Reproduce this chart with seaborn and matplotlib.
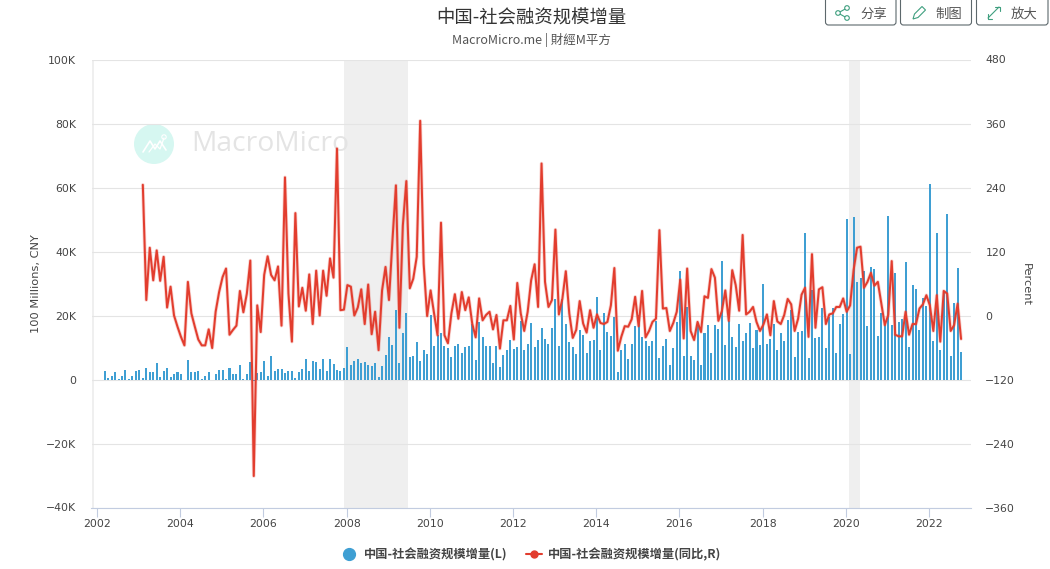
import numpy as np
import pandas as pd
import matplotlib
matplotlib.use("Agg")
import matplotlib.pyplot as plt
import matplotlib.patheffects as pe
from matplotlib.lines import Line2D
from matplotlib.patches import Circle, FancyBboxPatch, Polygon
import seaborn as sns

TITLE = "中国-社会融资规模增量"
SUBTITLE = "MacroMicro.me | 財經M平方"
BAR_LABEL = "中国-社会融资规模增量(L)"
LINE_LABEL = "中国-社会融资规模增量(同比,R)"

# monthly values, Feb 2002 onward (unit: K of 100 million CNY)
bar_values = [
    2.8, .6, 1.25, 2.2, .3, 1.25, 3.1, .3, 1.25, 2.8,
    3.1, .6, 3.75, 2.2, 2.5, 5.3, .9, 2.8, 3.75, .9,
    1.6, 2.2, 1.6, 0, 6.2, 2.2, 2.2, 2.8, .3, 1.25,
    2.5, 0, 1.6, 3.1, 3.1, .3, 3.75, 1.6, 1.6, 4.4,
    .3, 1.6, 5.6, -.5, 1.9, 2.2, 5.9, 1.25, 7.2, 2.8,
    3.4, 3.4, 1.9, 2.8, 2.8, .6, 2.5, 3.4, 6.5, 2.8,
    5.9, 5.6, 3.4, 6.5, 2.8, 6.5, 5, 3.1, 2.8, 3.75,
    10.3, 4.4, 5.9, 6.5, 5.3, 5.6, 4.4, 4.1, 5.3, .9,
    4.1, 7.8, 13.4, 10.7, 21.7, 5.1, 14.5, 20.7, 7, 7.3,
    11.7, 5.7, 9.2, 7.9, 20.1, 10.4, 13.9, 14.5, 10.4, 9.8,
    7, 10.4, 11, 8.2, 10.1, 10.4, 17.3, 6, 17.9, 13.2,
    10.4, 10.4, 5.1, 10.4, 3.9, 7.6, 9.2, 12.3, 9.5, 10.1,
    18.2, 9.2, 11, 17.6, 10.1, 12.3, 16, 12.6, 11, 16,
    25.1, 10.4, 25.1, 17.3, 11.7, 10.1, 7.9, 15.4, 13.9, 8.2,
    12, 12.3, 25.7, 9.2, 20.7, 14.8, 13.5, 19.5, 2.3, 9.2,
    11, 6.4, 11, 16.7, 20.1, 13.2, 12, 10.4, 12, 18.2,
    6.7, 10.4, 12.6, 4.5, 9.8, 17.9, 33.8, 7.5, 22.8, 7.2,
    6.25, 17, 4.4, 14.4, 16.9, 8.4, 16.9, 15.9, 36.9, 10.9,
    18.4, 13.4, 10.3, 17.5, 11.9, 14.4, 17.8, 10, 15.6, 10.9,
    30, 11.25, 12.8, 17.2, 9.1, 14.4, 11.9, 18.75, 21.6, 6.9,
    14.7, 15.3, 45.9, 6.6, 28.1, 13.1, 13.4, 22.2, 9.7, 19.4,
    22.2, 8.4, 17.2, 20.6, 50.3, 8.1, 50.9, 30.6, 31.6, 33.8,
    16.6, 35.3, 34.4, 13.75, 20.9, 16.9, 51.25, 16.9, 33.4, 18.1,
    19, 36.6, 10.3, 29.4, 28.4, 15.6, 25.6, 23.1, 61.25, 11.9,
    45.9, 9.1, 27.8, 51.6, 7.2, 24, 35, 8.75,
]

# yoy percent, starts 11 months after the bars
yoy_values = [
    245, 29, 127, 66, 122, 65, 110, 15, 54,
    0, -21, -40, -56, 63, 4, -21, -45, -56, -56,
    -26, -61, 7, 44, 72, 88, -36, -27, -19, 46,
    6, 41, 103, -301, 19, -31, 76, 111, 76, 66,
    92, -19, 259, 41, -49, 192, 17, 52, 9, 77,
    -16, 84, 0, 84, 37, 107, 71, 313, 10, 11,
    57, 54, 0, 15, 49, -16, 58, -35, 7, -65,
    47, 91, 29, 141, 244, -23, 169, 252, 51, 69,
    110, 365, 97, -1, 47, 4, -37, 174, -37, -52,
    4, 40, -6, 44, 10, 34, -15, -41, 32, -9,
    1, 7, -26, 1, -62, -9, -9, 18, -45, 61,
    4, -29, 7, 66, 96, 16, 285, 63, 16, 29,
    161, 2, 31, 83, 4, -42, -27, 27, -15, -32,
    10, -23, 2, -14, -16, -12, 19, 89, -66, -40,
    -20, -21, -7, 35, -20, 46, -41, -29, -12, -6,
    160, 13, 14, -29, -14, 7, 67, -43, 88, -29,
    -46, -12, -31, 36, 33, 87, 71, -10, 8, 47,
    -10, 85, 57, 9, 151, 2, 7, 16, -12, -29,
    -17, 2, -37, 27, -11, -16, 1, 31, 21, -29,
    -6, 39, 52, -40, 115, -23, 49, 53, -16, 2,
    4, 16, 16, 32, 7, 19, 85, 127, 129, 52,
    63, 80, 56, 63, 22, -18, 1, 102, -36, -39,
    -39, 7, -36, -16, -16, 13, 21, 38, 19, -29,
    38, -49, 46, 41, -29, -18, 22, -44,
]

shaded_spans = [(2001.868, 2001.93), (2007.93, 2009.47), (2020.08, 2020.33)]
year_ticks = list(range(2002, 2023, 2))
left_ticks = [-40000, -20000, 0, 20000, 40000, 60000, 80000, 100000]
left_labels = ["−40K", "−20K", "0", "20K", "40K", "60K", "80K", "100K"]
right_ticks = [-360, -240, -120, 0, 120, 240, 360, 480]
right_labels = ["−360", "−240", "−120", "0", "120", "240", "360", "480"]

BLUE = "#3f9fd3"
RED = "#e23d2e"
GRID = "#e4e4e4"
AXIS = "#c2cce0"
TEXT = "#444444"
GREEN = "#3f9f7f"

sns.set_theme(style="white")
plt.rcParams["font.family"] = ["DejaVu Sans", "Noto Sans CJK SC"]

months = 2002.185 + np.arange(len(bar_values)) / 12
df_bar = pd.DataFrame({"year": months, "value": np.array(bar_values) * 1000})
df_line = pd.DataFrame({"year": months[11:], "yoy": yoy_values})

fig = plt.figure(figsize=(10.5, 5.69), dpi=100)

# page furniture in pixel coordinates, behind the chart
page = fig.add_axes([0, 0, 1, 1], zorder=0)
page.set_xlim(0, 1050)
page.set_ylim(569, 0)
page.axis("off")

cjk = ["Noto Sans CJK SC", "DejaVu Sans"]
page.text(531, 19, TITLE, ha="center", va="center", fontsize=13.2, color="#333333", family=cjk)
page.text(531, 40, SUBTITLE, ha="center", va="center", fontsize=9, color="#555555", family=cjk)

# watermark
page.add_patch(Circle((154, 144), 20, color="#d6f7f1", lw=0))
page.plot([143, 150, 155, 160, 166], [152, 141, 149, 141, 150], color="white", lw=1.2)
page.plot([149, 155, 160, 164], [152, 144, 149, 138], color="white", lw=0.9)
page.add_patch(Circle((164, 137), 2.2, fc="#d6f7f1", ec="white", lw=0.8))

# top right buttons
for x0, x1, label, tx in [(825.5, 896, "分享", 873.5), (900.5, 971.5, "制图", 948.5), (976.5, 1048, "放大", 1024.5)]:
    page.add_patch(FancyBboxPatch((x0, -8), x1 - x0, 33, boxstyle="round,pad=0,rounding_size=3",
                                  fc="white", ec="#5d686c", lw=0.8))
    page.text(tx, 14, label, ha="center", va="center", fontsize=9.6, color="#555555", family=cjk)

# share icon
page.plot([847, 838, 847], [8, 13, 18], color=GREEN, lw=0.8)
for cx, cy in [(847, 8), (838, 13), (847, 18)]:
    page.add_patch(Circle((cx, cy), 2.3, fc="white", ec=GREEN, lw=0.8, zorder=3))
# pencil icon
page.add_patch(Polygon([(913, 19), (914.5, 14), (922, 6.5), (925.5, 10), (918, 17.5)],
                       closed=True, fc="white", ec=GREEN, lw=0.8))
# expand icon
page.plot([988, 999], [18, 7], color=GREEN, lw=0.8)
page.plot([995, 999.5, 999.5], [6.5, 6.5, 11], color=GREEN, lw=0.8)
page.plot([987.5, 987.5, 992], [14, 18.5, 18.5], color=GREEN, lw=0.8)

# main chart
ax = fig.add_axes([91.5 / 1050, 1 - 507.5 / 569, (970.7 - 91.5) / 1050, 448 / 569], zorder=1)
ax.patch.set_alpha(0)
for start, end in shaded_spans:
    ax.axvspan(start, end, color="#efefef", lw=0, zorder=0)

# the wordmark sits on top of the shaded band
ax.text(191, 144, "MacroMicro", transform=page.transData, ha="left", va="center", fontsize=20.3,
        color="#e4e4e4", family="Open Sans", zorder=1)

sns.barplot(data=df_bar, x="year", y="value", native_scale=True, errorbar=None, color=BLUE,
            saturation=1, width=0.58, linewidth=0, edgecolor="none", ax=ax, zorder=2)

ax.set_xlim(2001.868, 2023.0)
ax.set_ylim(-40000, 100000)
ax.set_xticks(year_ticks)
ax.set_xticklabels([str(y) for y in year_ticks])
ax.set_yticks(left_ticks)
ax.set_yticklabels(left_labels)
ax.set_xlabel("")
ax.set_ylabel("100 Millions, CNY", fontsize=8.2, color=TEXT)
ax.yaxis.set_label_coords(-0.058, 0.5)
ax.grid(axis="y", color=GRID, lw=0.8)
ax.set_axisbelow(True)
sns.despine(ax=ax, left=True, right=True, top=True)
ax.spines["bottom"].set_color(AXIS)
ax.spines["bottom"].set_linewidth(0.8)
ax.tick_params(axis="x", length=6.5, width=0.8, color=AXIS, labelsize=7.8, labelcolor=TEXT, pad=2, bottom=True)
ax.tick_params(axis="y", length=0, labelsize=7.8, labelcolor=TEXT, pad=11)

ax2 = ax.twinx()
ax2.set_zorder(2)
ax2.patch.set_alpha(0)
sns.lineplot(data=df_line, x="year", y="yoy", estimator=None, color=RED, lw=1.45, sort=False,
             solid_joinstyle="round", ax=ax2,
             path_effects=[pe.Stroke(linewidth=2.6, foreground=RED, alpha=0.22), pe.Normal()])
ax2.set_xlim(2001.868, 2023.0)
ax2.set_ylim(-360, 480)
ax2.set_yticks(right_ticks)
ax2.set_yticklabels(right_labels)
ax2.set_ylabel("")
ax2.set_xlabel("")
ax2.grid(False)
sns.despine(ax=ax2, left=True, right=True, top=True, bottom=True)
ax2.tick_params(axis="y", length=0, labelsize=7.8, labelcolor=TEXT, pad=10.5)
page.text(1026, 284, "Percent", rotation=270, ha="center", va="center", fontsize=8.2, color=TEXT)

handles = [
    Line2D([], [], ls="none", marker="o", ms=8.5, color=BLUE),
    Line2D([], [], color=RED, lw=1.5, marker="o", ms=5),
]
fig.legend(handles, [BAR_LABEL, LINE_LABEL], loc="center", bbox_to_anchor=(531.5 / 1050, 1 - 555 / 569),
           ncol=2, frameon=False, handlelength=1.3, handletextpad=0.55, columnspacing=1.5,
           prop={"family": cjk, "weight": "bold", "size": 8.8}, labelcolor="#444444")

fig.savefig("out.png", dpi=100)
